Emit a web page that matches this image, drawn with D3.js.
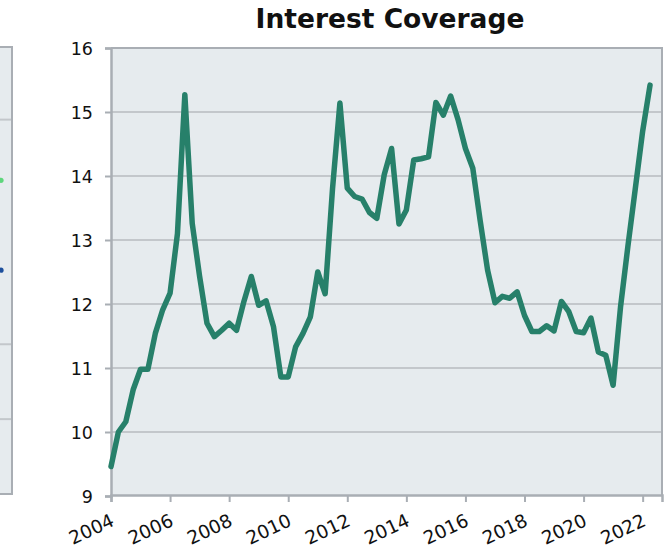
<!DOCTYPE html>
<html>
<head>
<meta charset="utf-8">
<script src="https://cdn.jsdelivr.net/npm/d3@7"></script>
<style>
  html, body { margin: 0; padding: 0; background: #ffffff; }
  svg { display: block; }
  text { font-family: "DejaVu Sans", Verdana, sans-serif; fill: #111; }
</style>
</head>
<body>
<svg id="chart" width="671" height="551"></svg>
<script>
// Quarterly interest coverage ratio, first quarter of 2004 onward
const startYear = 2004;
const coverage = [
  9.46, 10.0, 10.16, 10.66, 10.98, 10.98, 11.54, 11.91,
  12.17, 13.1, 15.27, 13.26, 12.43, 11.70, 11.49, 11.59,
  11.70, 11.59, 12.04, 12.43, 11.98, 12.05, 11.65, 10.86,
  10.86, 11.33, 11.54, 11.80, 12.50, 12.16, 13.8, 15.14,
  13.81, 13.68, 13.64, 13.43, 13.34, 14.02, 14.43, 13.25,
  13.47, 14.25, 14.27, 14.30, 15.15, 14.95, 15.25, 14.88,
  14.43, 14.12, 13.3, 12.53, 12.02, 12.12, 12.09, 12.19,
  11.82, 11.57, 11.57, 11.66, 11.58, 12.04, 11.88, 11.57,
  11.55, 11.78, 11.25, 11.20, 10.73, 11.95, 12.9, 13.8,
  14.7, 15.42
];
const yearTicks = [2004, 2006, 2008, 2010, 2012, 2014, 2016, 2018, 2020, 2022];
const valueTicks = [9, 10, 11, 12, 13, 14, 15, 16];

// Edge of the neighbouring panel: its gridlines and the two last points
const neighbourGrid = [1, 2, 5];
const neighbourPoints = [
  { value: 4.19, color: "#5ed67c" },
  { value: 2.99, color: "#1d4f9c" }
];

const title = "Interest Coverage";

const svg = d3.select("#chart");
const plot = { left: 111, right: 662, top: 48, bottom: 496 };
const bg = "#e6ebee";
const gridColor = "#c3c7cb";
const axisColor = "#a9aeb4";

const x = d3.scaleLinear().domain([2004, 2022.655]).range([plot.left, plot.right]);
const y = d3.scaleLinear().domain([9, 16]).range([plot.bottom, plot.top]);

// neighbouring panel fragment
const ny = d3.scaleLinear().domain([0, 5.97]).range([494, 47]);
const neighbour = svg.append("g");
neighbour.append("rect")
  .attr("x", -20).attr("y", 47).attr("width", 32).attr("height", 447)
  .attr("fill", bg).attr("stroke", axisColor).attr("stroke-width", 2);
neighbour.selectAll("line.grid").data(neighbourGrid).join("line")
  .attr("class", "grid")
  .attr("x1", 0).attr("x2", 11)
  .attr("y1", d => ny(d)).attr("y2", d => ny(d))
  .attr("stroke", gridColor).attr("stroke-width", 2);
neighbour.selectAll("circle").data(neighbourPoints).join("circle")
  .attr("cx", 1).attr("cy", d => ny(d.value)).attr("r", 2.6)
  .attr("fill", d => d.color);

// plot background
svg.append("rect")
  .attr("x", plot.left).attr("y", plot.top)
  .attr("width", plot.right - plot.left).attr("height", plot.bottom - plot.top)
  .attr("fill", bg);

// horizontal gridlines
svg.append("g").selectAll("line").data(valueTicks.filter(v => v > 9 && v < 16)).join("line")
  .attr("x1", plot.left).attr("x2", plot.right)
  .attr("y1", d => y(d)).attr("y2", d => y(d))
  .attr("stroke", gridColor).attr("stroke-width", 2);

// frame: top and right edges
svg.append("path")
  .attr("d", `M${plot.left},${plot.top}H${plot.right}V${plot.bottom}`)
  .attr("fill", "none").attr("stroke", axisColor).attr("stroke-width", 2);

// y axis
const yAxis = svg.append("g")
  .attr("transform", `translate(${plot.left},0)`)
  .call(d3.axisLeft(y).tickValues(valueTicks).tickSize(6).tickPadding(12).tickFormat(d3.format("d")));
yAxis.select(".domain").attr("stroke", axisColor).attr("stroke-width", 2.5);
yAxis.selectAll(".tick line").attr("stroke", axisColor).attr("stroke-width", 2);
yAxis.selectAll(".tick text")
  .attr("font-family", "DejaVu Sans, Verdana, sans-serif")
  .attr("font-size", 17.5).attr("fill", "#111")
  .attr("dy", "0.36em");

// x axis
const xAxis = svg.append("g")
  .attr("transform", `translate(0,${plot.bottom - 1})`)
  .call(d3.axisBottom(x).tickValues(yearTicks).tickSize(7).tickFormat(d3.format("d")));
xAxis.select(".domain").attr("stroke", axisColor).attr("stroke-width", 2.5);
xAxis.selectAll(".tick line").attr("stroke", axisColor).attr("stroke-width", 2);
xAxis.selectAll(".tick text")
  .attr("font-family", "DejaVu Sans, Verdana, sans-serif")
  .attr("font-size", 18.5).attr("fill", "#111")
  .attr("text-anchor", "end")
  .attr("y", 0).attr("dy", 0)
  .attr("transform", "translate(4,30) rotate(-25)");

// series line
const line = d3.line()
  .x((d, i) => x(startYear + i / 4))
  .y(d => y(d));
svg.append("path")
  .datum(coverage)
  .attr("d", line)
  .attr("fill", "none")
  .attr("stroke", "#27806a")
  .attr("stroke-width", 5.5)
  .attr("stroke-linejoin", "round")
  .attr("stroke-linecap", "round");

// title
svg.append("text")
  .attr("x", 390).attr("y", 28)
  .attr("text-anchor", "middle")
  .attr("font-family", "DejaVu Sans, Verdana, sans-serif")
  .attr("font-weight", "bold")
  .attr("font-size", 26.5)
  .attr("fill", "#111")
  .text(title);
</script>
</body>
</html>
